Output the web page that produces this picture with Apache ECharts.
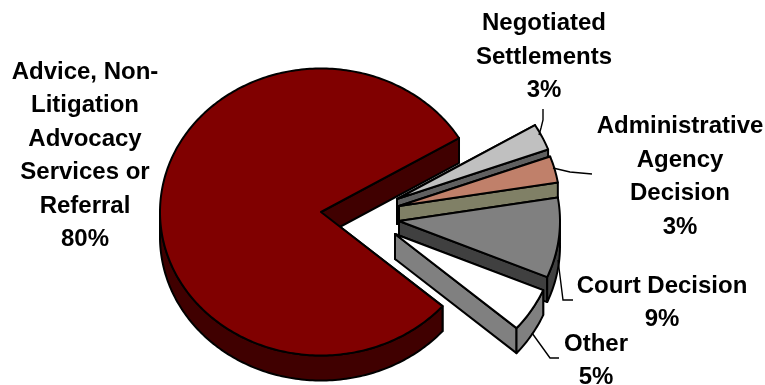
<!DOCTYPE html>
<html>
<head>
<meta charset="utf-8">
<style>html,body{margin:0;padding:0;background:#fff}#chart{width:765px;height:385px}</style>
<script src="https://cdn.jsdelivr.net/npm/echarts@6/dist/echarts.min.js"></script>
</head>
<body>
<div id="chart"></div>
<script>
// Outcome shares, listed clockwise from the upper edge of the pulled-out group
const categories = ['Negotiated\nSettlements', 'Administrative\nAgency\nDecision', 'Court Decision', 'Other', 'Advice, Non-\nLitigation\nAdvocacy\nServices or\nReferral'];
const shares = [3, 3, 9, 5, 80];
const faceColors = ['#c0c0c0', '#c0806a', '#808080', '#ffffff', '#800000'];
const sideColors = ['#606060', '#808066', '#404040', '#808080', '#400000'];

// Pie geometry in pixels: tilted ellipse, extrusion depth, per-slice pull-out
const pie = { cx: 321, cy: 212, rx: 161, ry: 143.5, depth: 25, startAngle: -31 };
const pullOut = [[76, -13], [78, -6], [78, 9], [74, 22], [0, 0]];

// Label anchors (centre of the text block) and leader lines
const labelAnchors = [[544, 57], [680, 177], [662, 303], [596, 361], [85, 156]];
const leaders = [
  [[543, 109], [543, 120], [541, 128], [539, 135]],
  [[553, 168], [570, 172], [592, 174]],
  [[558, 260], [563, 300], [573, 300]],
  [[532, 333], [550, 358], [559, 358]],
  null
];

const total = shares.reduce((a, b) => a + b, 0);
const rad = d => d * Math.PI / 180;

function rimPoint(angle, off, drop) {
  return [
    pie.cx + off[0] + pie.rx * Math.cos(rad(angle)),
    pie.cy + off[1] + pie.ry * Math.sin(rad(angle)) + drop
  ];
}

function arcPoints(a0, a1, off, drop) {
  const pts = [];
  const n = Math.max(2, Math.ceil(Math.abs(a1 - a0)));
  for (let i = 0; i <= n; i++) pts.push(rimPoint(a0 + (a1 - a0) * i / n, off, drop));
  return pts;
}

function poly(points, fill) {
  return {
    type: 'polygon',
    shape: { points },
    style: { fill, stroke: '#000', lineWidth: 2, lineJoin: 'round' }
  };
}

function renderSlice(params, api) {
  const i = params.dataIndex;
  const value = api.value(0);
  let before = 0;
  for (let k = 0; k < i; k++) before += shares[k];
  const a0 = pie.startAngle + before / total * 360;
  const a1 = a0 + value / total * 360;
  const off = pullOut[i];
  const tip = [pie.cx + off[0], pie.cy + off[1]];
  const tipLow = [tip[0], tip[1] + pie.depth];
  const children = [];

  // Cut faces first; the top face hides whichever one points away
  [a0, a1].forEach(a => {
    children.push(poly([tip, rimPoint(a, off, 0), rimPoint(a, off, pie.depth), tipLow], sideColors[i]));
  });

  // Outer wall, only where the rim faces the viewer (0-180 degrees)
  const w0 = Math.max(a0, 0), w1 = Math.min(a1, 180);
  if (w1 > w0) {
    children.push(poly(arcPoints(w0, w1, off, 0).concat(arcPoints(w1, w0, off, pie.depth)), sideColors[i]));
  }

  // Top face
  children.push(poly([tip].concat(arcPoints(a0, a1, off, 0)), faceColors[i]));

  if (leaders[i]) {
    children.push({
      type: 'polyline',
      shape: { points: leaders[i] },
      style: { fill: null, stroke: '#000', lineWidth: 1.4 }
    });
  }

  children.push({
    type: 'text',
    x: labelAnchors[i][0],
    y: labelAnchors[i][1],
    style: {
      text: categories[i] + '\n' + value + '%',
      fontFamily: '"Liberation Sans", Arial, sans-serif',
      fontWeight: 'bold',
      fontSize: 24,
      lineHeight: 33.5,
      fill: '#000',
      align: 'center',
      verticalAlign: 'middle'
    }
  });

  return { type: 'group', children };
}

const chart = echarts.init(document.getElementById('chart'), null, { renderer: 'canvas' });
chart.setOption({
  animation: false,
  backgroundColor: '#ffffff',
  series: [{
    type: 'custom',
    coordinateSystem: 'none',
    renderItem: renderSlice,
    data: shares.map(v => [v])
  }]
});
</script>
</body>
</html>
